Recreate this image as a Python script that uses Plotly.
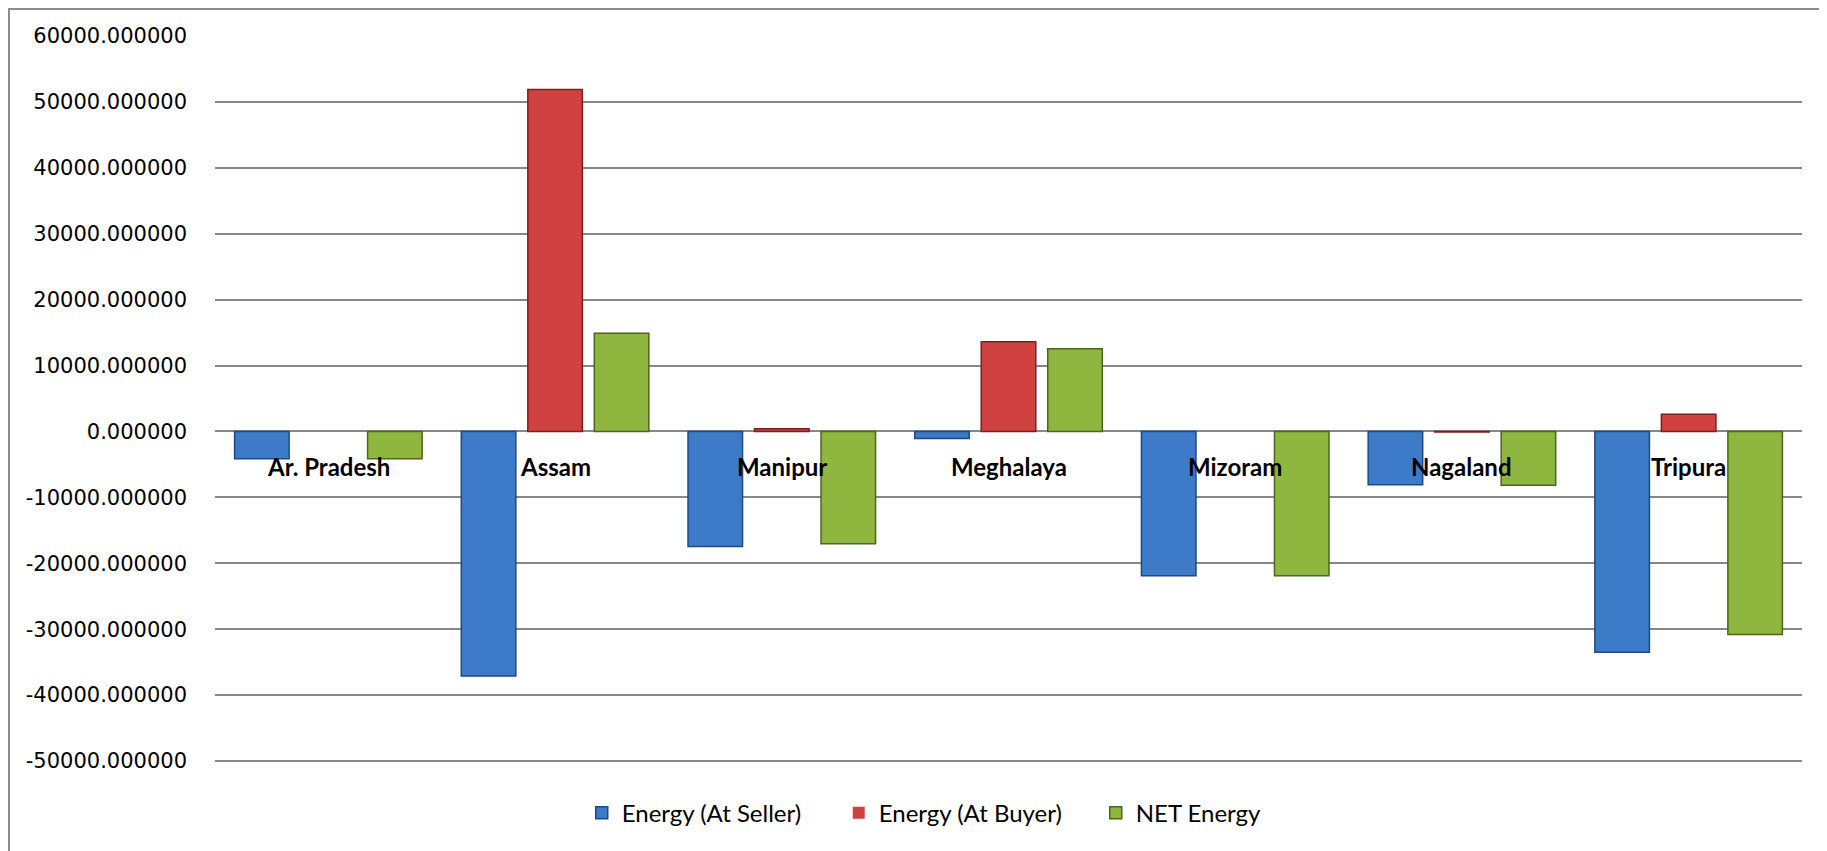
import plotly.graph_objects as go

states = ["Ar. Pradesh", "Assam", "Manipur", "Meghalaya", "Mizoram", "Nagaland", "Tripura"]
energy_seller = [-4150, -37100, -17450, -1050, -21900, -8100, -33500]
energy_buyer = [0, 51900, 400, 13600, 0, -80, 2600]
net_energy = [-4150, 14900, -17050, 12550, -21900, -8150, -30800]

y_ticks = [60000, 50000, 40000, 30000, 20000, 10000, 0,
           -10000, -20000, -30000, -40000, -50000]

series = [
    ("Energy (At Seller)", energy_seller, "#3d7bc8", "#1d4a86"),
    ("Energy (At Buyer)", energy_buyer, "#d04242", "#7e1f1f"),
    ("NET Energy", net_energy, "#8fb63f", "#4c661c"),
]

fig = go.Figure()
for name, vals, color, edge in series:
    # zero-height bars get no outline so they don't show as a stray line
    widths = [0 if v == 0 else 1.5 for v in vals]
    fig.add_trace(go.Bar(
        name=name, x=states, y=vals,
        marker=dict(color=color, line=dict(color=edge, width=widths)),
    ))

# category labels sit just under the zero line, like the Excel axis
for s in states:
    fig.add_annotation(
        x=s, y=0, xref="x", yref="y", text="<b>%s</b>" % s,
        showarrow=False, yanchor="middle", yshift=-35,
        font=dict(family="Lato", size=24, color="#000000"),
    )

# outer chart border
fig.add_shape(type="rect", xref="paper", yref="paper",
              x0=-0.1298, x1=1.03, y0=-0.25, y1=1.0372,
              line=dict(color="#8c8c8c", width=2), fillcolor="rgba(0,0,0,0)")

fig.update_layout(
    width=1819, height=843,
    margin=dict(l=207, r=25, t=28, b=88),
    paper_bgcolor="white", plot_bgcolor="white",
    barmode="group", bargap=0.12, bargroupgap=0.18,
    showlegend=True,
    legend=dict(orientation="h", x=0.474, xanchor="center", y=-0.069, yanchor="middle",
                font=dict(family="Lato", size=24, color="#000000"),
                entrywidth=212, entrywidthmode="pixels", traceorder="normal"),
    xaxis=dict(showticklabels=False, showgrid=False, zeroline=False, showline=False, ticks=""),
    yaxis=dict(range=[-50300, 60000], tickvals=y_ticks,
               ticktext=["%.6f" % v for v in y_ticks],
               showgrid=True, gridcolor="#888888", gridwidth=1.5,
               zeroline=False, showline=False, ticks="",
               ticklabelstandoff=27,
               tickfont=dict(family="DejaVu Sans", size=21, color="#000000")),
)

fig.write_html("out.html")
